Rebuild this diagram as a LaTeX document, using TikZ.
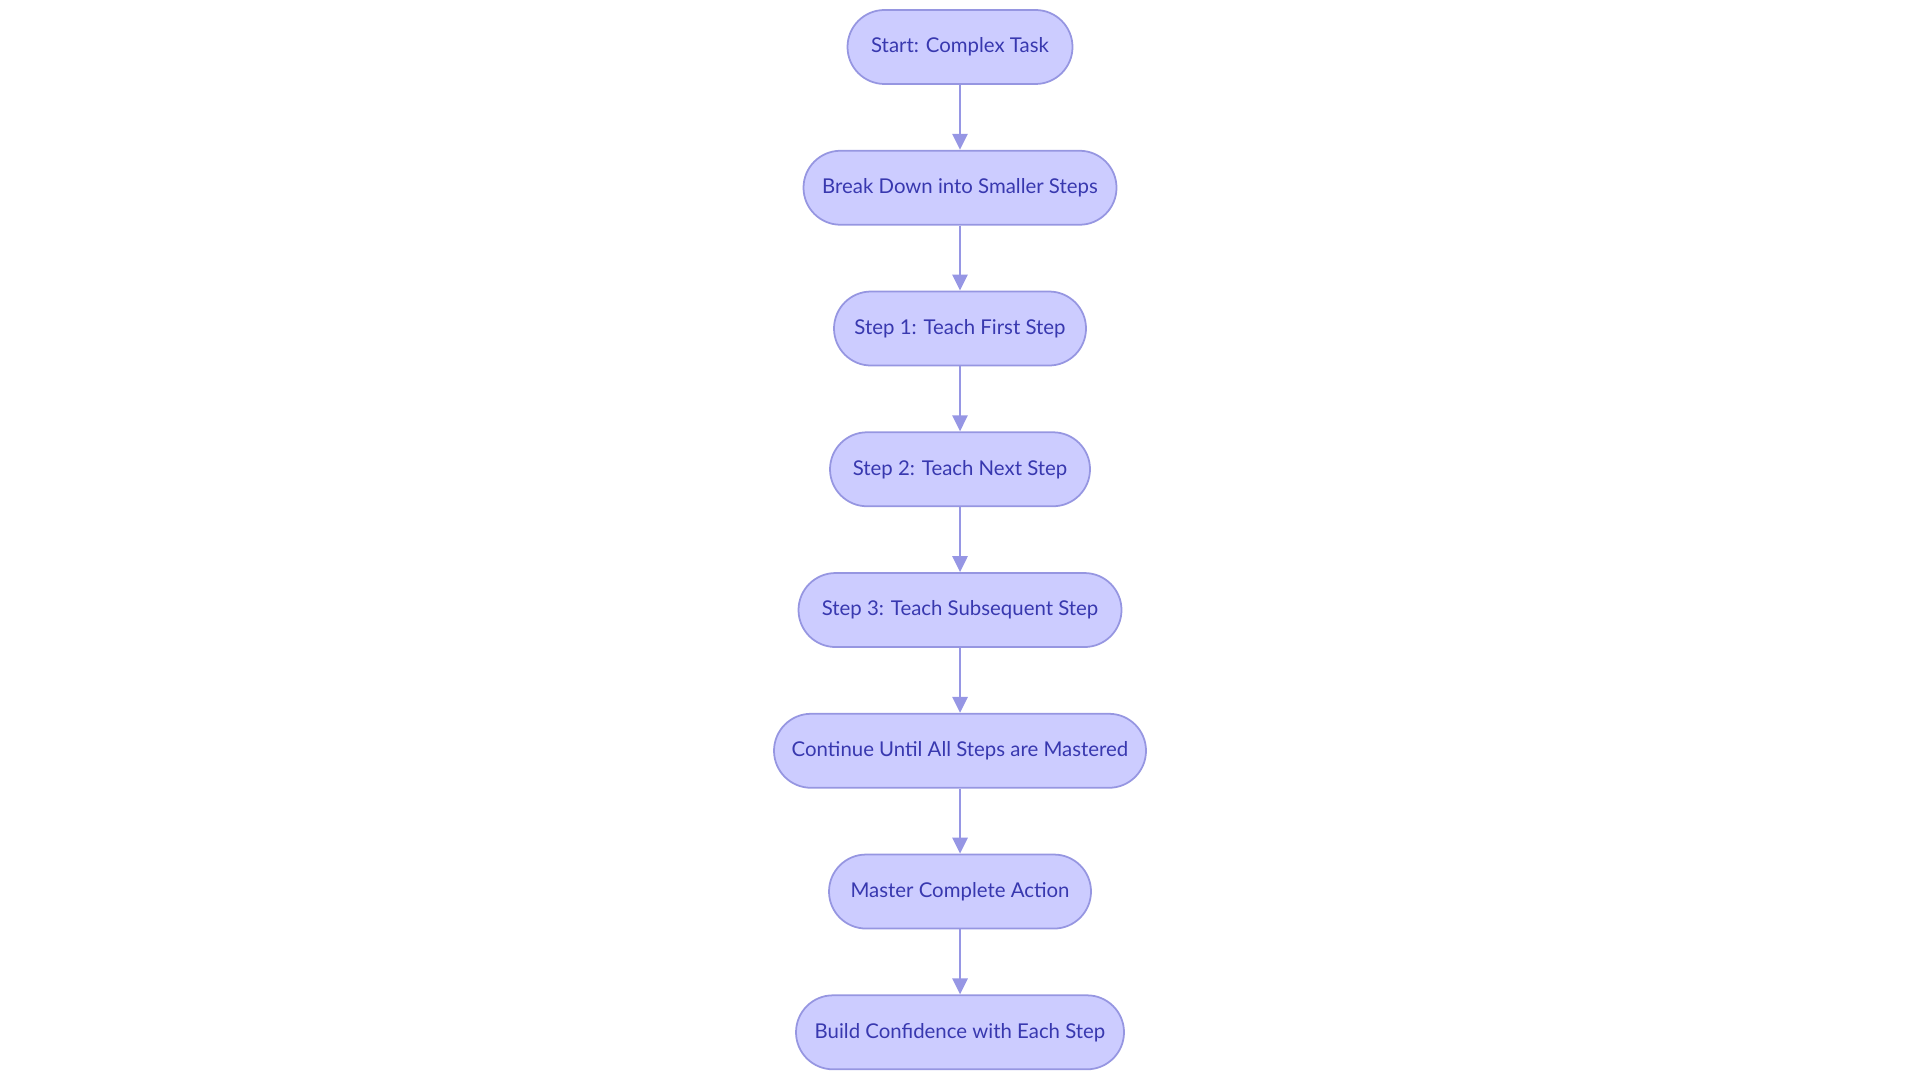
\documentclass[tikz,border=0pt]{standalone}
\usepackage{fontspec}
\setmainfont{Lato}
\usepackage{tikz}
\usetikzlibrary{positioning,arrows.meta}

\definecolor{boxfill}{RGB}{204,204,255}
\definecolor{boxline}{RGB}{150,150,225}
\definecolor{boxtext}{RGB}{56,56,175}
\definecolor{arrowcol}{RGB}{150,150,228}

\tikzset{
  stepnode/.style={rectangle, rounded corners=0.37cm, draw=boxline, fill=boxfill, line width=0.5pt,
    text=boxtext, font=\fontsize{5.8pt}{7pt}\selectfont, minimum height=0.74cm, inner xsep=0.1cm},
  flowarrow/.style={-{Triangle[length=0.16cm,width=0.15cm]}, draw=arrowcol, line width=0.8pt}
}

\begin{document}
\begin{tikzpicture}[node distance=0.65cm]

%page frame
\useasboundingbox (0,0) rectangle (19.2,-10.8);

%nodes
\node[stepnode, minimum width=2.25cm] (start) at (9.6,-0.47) {Start: Complex Task};
\node[stepnode, minimum width=3.13cm, below=of start] (breakdown) {Break Down into Smaller Steps};
\node[stepnode, minimum width=2.52cm, below=of breakdown] (first) {Step 1: Teach First Step};
\node[stepnode, minimum width=2.60cm, below=of first] (next) {Step 2: Teach Next Step};
\node[stepnode, minimum width=3.23cm, below=of next] (subseq) {Step 3: Teach Subsequent Step};
\node[stepnode, minimum width=3.72cm, below=of subseq] (continue) {Continue Until All Steps are Mastered};
\node[stepnode, minimum width=2.62cm, below=of continue] (master) {Master Complete Action};
\node[stepnode, minimum width=3.28cm, below=of master] (confidence) {Build Confidence with Each Step};

%arrows
\foreach \a/\b in {start/breakdown, breakdown/first, first/next, next/subseq,
                   subseq/continue, continue/master, master/confidence}
  \draw[flowarrow] (\a) -- (\b);

\end{tikzpicture}
\end{document}
